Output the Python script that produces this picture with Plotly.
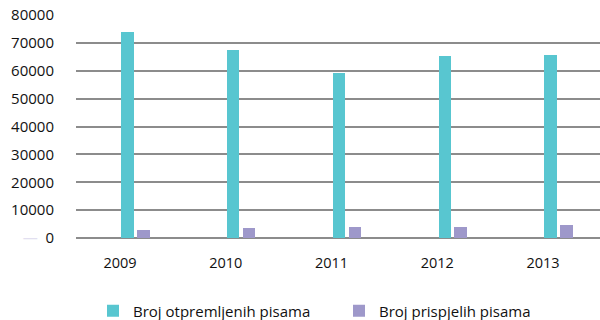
import plotly.graph_objects as go

# Letters sent and received per year
years = [2009, 2010, 2011, 2012, 2013]
otpremljena = [73900, 67500, 59100, 65300, 65500]
prispjela = [2700, 3700, 4050, 3900, 4750]

y_ticks = [0, 10000, 20000, 30000, 40000, 50000, 60000, 70000, 80000]
y_labels = ["<span style='color:#e2dff0'>—</span>  0"] + [str(v) for v in y_ticks[1:]]

TEAL = "#58C6D0"
PURPLE = "#9E98CA"
FONT = "Open Sans, Noto Sans, sans-serif"

fig = go.Figure()
fig.add_trace(go.Bar(
    x=years, y=otpremljena, name="Broj otpremljenih pisama",
    marker=dict(color=TEAL, line=dict(width=0)),
    offset=0.012, width=0.116,
))
fig.add_trace(go.Bar(
    x=years, y=prispjela, name="Broj prispjelih pisama",
    marker=dict(color=PURPLE, line=dict(width=0)),
    offset=0.162, width=0.118,
))

fig.update_layout(
    width=600, height=320,
    margin=dict(l=76, r=0, t=15, b=82, autoexpand=False),
    paper_bgcolor="white", plot_bgcolor="white",
    barmode="overlay",
    font=dict(family=FONT, size=14, color="#111111"),
    xaxis=dict(
        range=[2008.584, 2013.539],
        tickvals=years, ticktext=[str(y) for y in years],
        showgrid=False, zeroline=False, showline=False,
        ticks="", tickfont=dict(size=14.5), ticklabelstandoff=14,
        automargin=False,
    ),
    yaxis=dict(
        range=[0, 80000],
        tickvals=y_ticks, ticktext=y_labels,
        showgrid=True, gridcolor="#8c8c8c", gridwidth=2,
        zeroline=True, zerolinecolor="#8c8c8c", zerolinewidth=2,
        showline=False, ticks="", tickfont=dict(size=15),
        ticklabelstandoff=21, automargin=False,
    ),
    legend=dict(
        orientation="h",
        xref="container", x=0.155, xanchor="left",
        yref="container", y=0.028, yanchor="middle",
        font=dict(size=15), itemwidth=30, entrywidth=201,
        entrywidthmode="pixels",
    ),
    bargap=0,
)

fig.write_html("out.html")
